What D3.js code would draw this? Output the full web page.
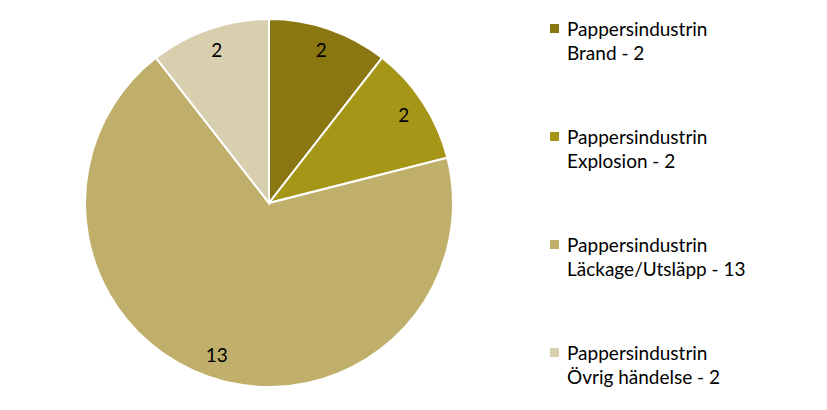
<!DOCTYPE html>
<meta charset="utf-8">
<script src="https://d3js.org/d3.v7.min.js"></script>
<style>
  body { margin: 0; background: #fff; }
  text { font-family: 'Lato', 'Open Sans', sans-serif; fill: #000; }
</style>
<body>
<div id="chart"></div>
<script>

// data
var categories = ["Pappersindustrin Brand", "Pappersindustrin Explosion",
                  "Pappersindustrin Läckage/Utsläpp", "Pappersindustrin Övrig händelse"];
var legendLine1 = ["Pappersindustrin", "Pappersindustrin", "Pappersindustrin", "Pappersindustrin"];
var legendLine2 = ["Brand", "Explosion", "Läckage/Utsläpp", "Övrig händelse"];
var values = [2, 2, 13, 2];
var colors = ["#8b7711", "#a69617", "#bfaf6b", "#d8cfaf"];

var width = 827, height = 410;
var cx = 269, cy = 203, radius = 184;

var svg = d3.select("#chart")
  .append("svg")
    .attr("width", width)
    .attr("height", height);

var data = categories.map(function(c, i) { return {name: c, value: values[i], i: i}; });

var pie = d3.pie()
  .sort(null)
  .value(function(d) { return d.value; });

var arc = d3.arc().innerRadius(0).outerRadius(radius);
var labelArc = d3.arc().innerRadius(161).outerRadius(161);

var g = svg.append("g")
  .attr("transform", "translate(" + cx + "," + cy + ")");

var slices = g.selectAll("g.slice")
  .data(pie(data))
  .enter().append("g")
    .attr("class", "slice");

slices.append("path")
  .attr("d", arc)
  .attr("fill", function(d) { return colors[d.data.i]; })
  .attr("stroke", "#fff")
  .attr("stroke-width", 2);

slices.append("text")
  .attr("transform", function(d) { return "translate(" + labelArc.centroid(d) + ")"; })
  .attr("text-anchor", "middle")
  .attr("dy", "0.35em")
  .style("font-size", "19px")
  .text(function(d) { return d.data.value; });

// legend
var legend = svg.selectAll("g.legend")
  .data(data)
  .enter().append("g")
    .attr("class", "legend")
    .attr("transform", function(d, i) { return "translate(550," + (24 + i * 108) + ")"; });

legend.append("rect")
  .attr("x", 0).attr("y", 0)
  .attr("width", 9).attr("height", 9)
  .attr("fill", function(d) { return colors[d.i]; });

legend.append("text")
  .attr("x", 17).attr("y", 12)
  .style("font-size", "19px")
  .text(function(d) { return legendLine1[d.i]; });

legend.append("text")
  .attr("x", 17).attr("y", 36)
  .style("font-size", "19px")
  .text(function(d) { return legendLine2[d.i] + " - " + d.value; });

</script>
</body>
